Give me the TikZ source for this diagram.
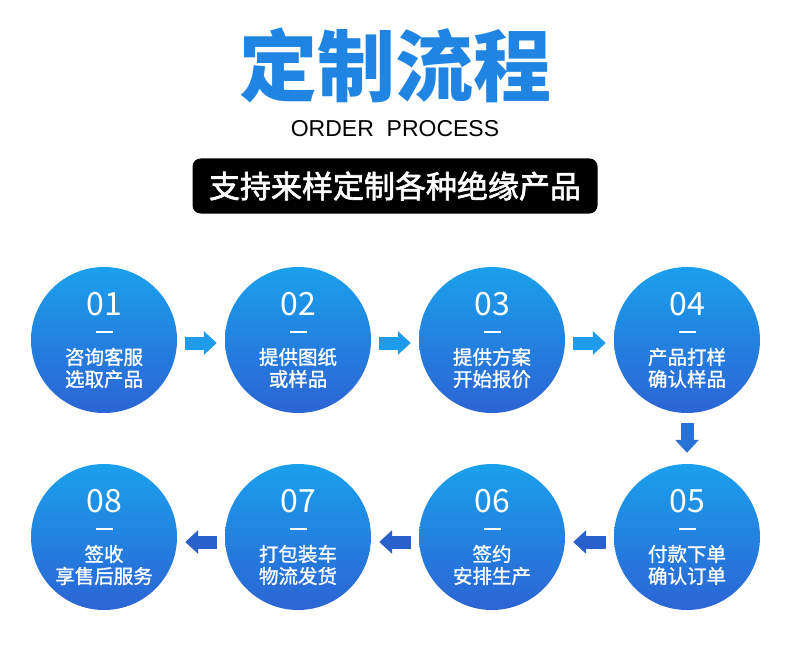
\documentclass[tikz,border=0pt]{standalone}
\usepackage{fontspec}
\setmainfont{Liberation Sans}
\newfontfamily\cjk{Noto Sans CJK SC}
\newfontfamily\cjkmid[FakeBold=1.2]{Noto Sans CJK SC}
\newfontfamily\cjkbox[FakeBold=2]{Noto Sans CJK SC}
\usetikzlibrary{arrows.meta}
\usetikzlibrary{positioning}
\definecolor{stepTop}{RGB}{26,160,236}
\definecolor{stepBottom}{RGB}{44,100,212}
\definecolor{arrowLight}{RGB}{30,155,233}
\definecolor{arrowDark}{RGB}{42,96,204}
\definecolor{titleBlue}{RGB}{32,132,226}
\tikzset{
    stage/.style={
        circle,
        minimum size=146pt,
        inner sep=0pt,
        top color=stepTop,
        bottom color=stepBottom
    },
    heading/.style={text=titleBlue, font=\cjk\bfseries\fontsize{78}{78}\selectfont},
    num/.style={text=white, font=\cjk\fontsize{32}{32}\selectfont},
    bar/.style={fill=white, minimum width=17pt, minimum height=2pt, inner sep=0pt},
    txt/.style={text=white, align=center, font=\cjkmid\fontsize{19.5}{22}\selectfont},
    flow/.style={
        line width=13pt,
        -{Triangle[length=13pt, width=23pt]},
        shorten <=8pt,
        shorten >=8pt
    }
}

\begin{document}
\begin{tikzpicture}[x=1pt, y=-1pt]
    \useasboundingbox (0,0) rectangle (790,650);

    % Heading
    \node[heading] (title) at (395,65) {定制流程};
    \node[font=\fontsize{23}{23}\selectfont] (order) at (395,129) {ORDER\ \ PROCESS};
    \node[fill=black, rounded corners=8pt, minimum width=405pt, minimum height=55pt,
          text=white, font=\cjkbox\fontsize{31}{31}\selectfont] (tag) at (395,186) {支持来样定制各种绝缘产品};

    % Circles
    \node[stage] (c1) at (104,340) {};
    \node[stage] (c2) at (298,340) {};
    \node[stage] (c3) at (492,340) {};
    \node[stage] (c4) at (687,340) {};
    \node[stage] (c5) at (687,537) {};
    \node[stage] (c6) at (492,537) {};
    \node[stage] (c7) at (298,537) {};
    \node[stage] (c8) at (104,537) {};

    % Numbers, bars and texts
    \node[num] (n1) at ([yshift=36pt]c1.center) {01};
    \node[bar] (d1) at ([yshift=8pt]c1.center) {};
    \node[txt] (t1) at ([yshift=-28pt]c1.center) {咨询客服\\选取产品};

    \node[num] (n2) at ([yshift=36pt]c2.center) {02};
    \node[bar] (d2) at ([yshift=8pt]c2.center) {};
    \node[txt] (t2) at ([yshift=-28pt]c2.center) {提供图纸\\或样品};

    \node[num] (n3) at ([yshift=36pt]c3.center) {03};
    \node[bar] (d3) at ([yshift=8pt]c3.center) {};
    \node[txt] (t3) at ([yshift=-28pt]c3.center) {提供方案\\开始报价};

    \node[num] (n4) at ([yshift=36pt]c4.center) {04};
    \node[bar] (d4) at ([yshift=8pt]c4.center) {};
    \node[txt] (t4) at ([yshift=-28pt]c4.center) {产品打样\\确认样品};

    \node[num] (n5) at ([yshift=36pt]c5.center) {05};
    \node[bar] (d5) at ([yshift=8pt]c5.center) {};
    \node[txt] (t5) at ([yshift=-28pt]c5.center) {付款下单\\确认订单};

    \node[num] (n6) at ([yshift=36pt]c6.center) {06};
    \node[bar] (d6) at ([yshift=8pt]c6.center) {};
    \node[txt] (t6) at ([yshift=-28pt]c6.center) {签约\\安排生产};

    \node[num] (n7) at ([yshift=36pt]c7.center) {07};
    \node[bar] (d7) at ([yshift=8pt]c7.center) {};
    \node[txt] (t7) at ([yshift=-28pt]c7.center) {打包装车\\物流发货};

    \node[num] (n8) at ([yshift=36pt]c8.center) {08};
    \node[bar] (d8) at ([yshift=8pt]c8.center) {};
    \node[txt] (t8) at ([yshift=-28pt]c8.center) {签收\\享售后服务};

    % Arrows
    \draw[flow, arrowLight] ([yshift=-3pt]c1.east) -- ([yshift=-3pt]c2.west);
    \draw[flow, arrowLight] ([yshift=-3pt]c2.east) -- ([yshift=-3pt]c3.west);
    \draw[flow, arrowLight] ([yshift=-3pt]c3.east) -- ([yshift=-3pt]c4.west);
    \draw[flow, arrowDark!70!arrowLight, shorten <=10pt, shorten >=11pt] (c4.south) -- (c5.north);
    \draw[flow, arrowDark] ([yshift=-5pt]c5.west) -- ([yshift=-5pt]c6.east);
    \draw[flow, arrowDark] ([yshift=-5pt]c6.west) -- ([yshift=-5pt]c7.east);
    \draw[flow, arrowDark] ([yshift=-5pt]c7.west) -- ([yshift=-5pt]c8.east);
\end{tikzpicture}
\end{document}
